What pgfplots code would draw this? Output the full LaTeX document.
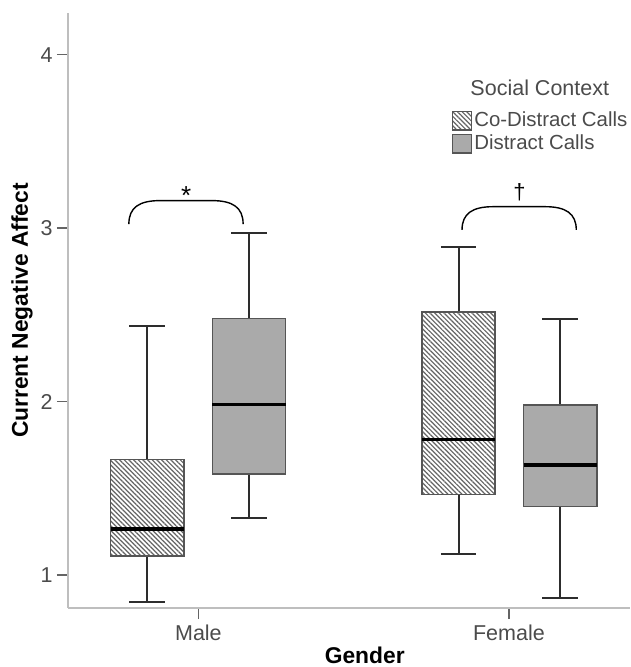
\documentclass[border=0pt]{standalone}
\usepackage{fontspec}
\setmainfont{Liberation Sans}
\usepackage{pgfplots}
\pgfplotsset{compat=1.18}
\usepgfplotslibrary{statistics}
\usetikzlibrary{patterns.meta}
\definecolor{boxgray}{RGB}{170,170,170}
\definecolor{edgegray}{RGB}{85,85,85}
\definecolor{wgray}{RGB}{45,45,45}
\definecolor{axgray}{RGB}{190,190,190}
\definecolor{tickgray}{RGB}{100,100,100}
\definecolor{labgray}{RGB}{75,75,75}
\definecolor{hatchgray}{RGB}{100,100,100}
\begin{document}
\begin{tikzpicture}[x=1pt,y=1pt]
\useasboundingbox (0,0) rectangle (631,667);
\begin{axis}[
  at={(68pt,59pt)}, anchor=origin,
  scale only axis, width=562pt, height=595pt,
  xmin=0.58, xmax=2.39, ymin=0.8097, ymax=4.241,
  axis lines*=left,
  axis line style={axgray, line width=1.6pt},
  xtick={1,2}, xticklabels={Male,Female},
  ytick={1,2,3,4},
  tick align=outside, major tick length=11pt,
  tick style={tickgray, line width=1.4pt},
  /pgf/number format/assume math mode=true,
  ticklabel style={font=\fontsize{21.5}{24}\selectfont, text=labgray},
  yticklabel style={xshift=-1pt},
  xticklabel style={yshift=-2pt},
  xlabel={Gender}, ylabel={Current Negative Affect},
  xlabel style={font=\fontsize{22.8}{26}\selectfont\bfseries, at={(axis description cs:0.528,-0.0935)}, anchor=base, inner sep=0pt},
  ylabel style={font=\fontsize{22.8}{26}\selectfont\bfseries, at={(axis description cs:-0.0817,0.5)}, anchor=center, inner sep=0pt},
  boxplot/draw direction=y,
  boxplot/box extend=0.236,
  boxplot/whisker extend=0.115,
  boxplot/every median/.style={draw=black, line width=3.4pt},
  boxplot/every whisker/.style={draw=wgray, line width=2.1pt},
  boxplot/every box/.style={draw=edgegray, line width=1.6pt},
  legend style={at={(axis cs:1.8146,3.687)}, anchor=north west, draw=none, fill=none, inner sep=0pt,
    font=\fontsize{20.4}{22}\selectfont, text=labgray,
    nodes={inner ysep=1pt, inner xsep=2.5pt, text height=16pt, text depth=5pt}, row sep=0pt},
  legend cell align=left,
  clip=false,
]
% Male co-distract
\addplot[forget plot, boxplot prepared={lower whisker=0.846, lower quartile=1.108, median=1.265, upper quartile=1.667, upper whisker=2.438, draw position=0.835},
  draw=edgegray, pattern={Lines[angle=-45,distance=3.3pt,line width=1.2pt]}, pattern color=hatchgray] coordinates {};
% Male distract
\addplot[forget plot, boxplot prepared={lower whisker=1.327, lower quartile=1.581, median=1.984, upper quartile=2.480, upper whisker=2.974, draw position=1.163},
  draw=edgegray, fill=boxgray] coordinates {};
% Female co-distract
\addplot[forget plot, boxplot prepared={lower whisker=1.119, lower quartile=1.465, median=1.783, upper quartile=2.518, upper whisker=2.893, draw position=1.838},
  draw=edgegray, pattern={Lines[angle=-45,distance=3.3pt,line width=1.2pt]}, pattern color=hatchgray] coordinates {};
% Female distract
\addplot[forget plot, boxplot prepared={lower whisker=0.866, lower quartile=1.396, median=1.634, upper quartile=1.980, upper whisker=2.476, draw position=2.165},
  draw=edgegray, fill=boxgray] coordinates {};
\addlegendimage{legend image code/.code={\draw[edgegray, line width=1.3pt, pattern={Lines[angle=-45,distance=3.3pt,line width=1.2pt]}, pattern color=hatchgray] (0pt,-9.3pt) rectangle (19pt,9.3pt);}}
\addlegendentry{Co-Distract Calls}
\addlegendimage{legend image code/.code={\draw[edgegray, line width=1.3pt, fill=boxgray] (0pt,-9.3pt) rectangle (19pt,9.3pt);}}
\addlegendentry{Distract Calls}
\node[anchor=base, font=\fontsize{21.5}{24}\selectfont, text=labgray] at (axis cs:2.0995,3.768) {Social Context};
% significance braces
\draw[black, line width=1.4pt] (axis cs:0.776,3.024) .. controls (axis cs:0.776,3.12) and (axis cs:0.81,3.159) .. (axis cs:0.876,3.159) -- (axis cs:1.044,3.159) .. controls (axis cs:1.11,3.159) and (axis cs:1.144,3.12) .. (axis cs:1.144,3.024);
\draw[black, line width=1.4pt] (axis cs:1.849,2.99) .. controls (axis cs:1.849,3.085) and (axis cs:1.883,3.124) .. (axis cs:1.949,3.124) -- (axis cs:2.117,3.124) .. controls (axis cs:2.183,3.124) and (axis cs:2.217,3.085) .. (axis cs:2.217,2.99);
\node[anchor=center, font=\fontsize{26}{28}\selectfont, inner sep=0pt] at (axis cs:0.961,3.19) {*};
\node[anchor=center, font=\fontsize{22}{24}\selectfont, inner sep=0pt] at (axis cs:2.034,3.21) {†};
\end{axis}
\end{tikzpicture}
\end{document}
